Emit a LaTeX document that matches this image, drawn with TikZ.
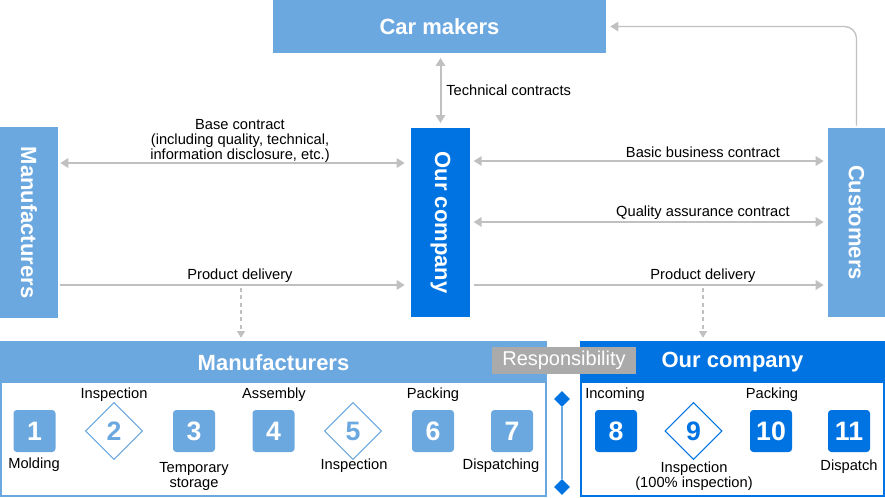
\documentclass[tikz,border=0pt]{standalone}
\usepackage{fontspec}
\setmainfont{Liberation Sans}
\usetikzlibrary{arrows.meta,shapes.geometric}
\definecolor{lightblue}{RGB}{108,168,224}
\definecolor{darkblue}{RGB}{0,115,227}
\definecolor{arrowgray}{RGB}{192,192,192}
\definecolor{respgray}{RGB}{170,170,170}

\tikzset{
	px/.style 2 args={minimum width=#1*0.75pt, minimum height=#2*0.75pt},
	party/.style={fill=#1, text=white, inner sep=0pt, font=\bfseries\fontsize{16.5}{20}\selectfont},
	lbl/.style={inner sep=0pt, align=center, font=\fontsize{11}{11.4}\selectfont},
	link/.style={draw=arrowgray, line width=1.5pt},
	tip/.style={-{Triangle[width=7pt,length=6pt]}},
	both/.style={{Triangle[width=7pt,length=6pt]}-{Triangle[width=7pt,length=6pt]}},
	drop/.style={draw=arrowgray, line width=0.8pt, dash pattern=on 3pt off 2.5pt, -{Triangle[width=6pt,length=5pt]}},
	stepbox/.style={fill=#1, rounded corners=2.5pt, px={42}{42}, inner sep=0pt, text=white, font=\bfseries\fontsize{20}{22}\selectfont},
	stepdia/.style={diamond, draw=#1, fill=white, line width=0.8pt, px={57}{57}, inner sep=0pt, text=#1, font=\bfseries\fontsize{20}{22}\selectfont},
	marker/.style={diamond, fill=darkblue, px={16}{16}, inner sep=0pt}
}

\begin{document}
\begin{tikzpicture}[x=0.75pt, y=-0.75pt]
	\useasboundingbox (0,0) rectangle (885,497);
	% parties
	\node [party=lightblue, px={333}{53}] (car) at (439.5,26.5) {Car makers};
	\node [party=lightblue, px={58}{191}] (mfr) at (29,222.5) {\rotatebox{-90}{Manufacturers}};
	\node [party=darkblue, px={59}{189}] (our) at (440.5,222.5) {\rotatebox{-90}{Our company}};
	\node [party=lightblue, px={57}{189}] (cust) at (856.5,222.5) {\rotatebox{-90}{Customers}};
	% contracts and deliveries
	\coordinate (baseY) at (0,163);
	\coordinate (bizY) at (0,161);
	\coordinate (qaY) at (0,222);
	\coordinate (delY) at (0,285);
	\draw [link, both, shorten <=3.5pt, shorten >=3.5pt] (our.north |- car.south) -- (our.north);
	\draw [link, both, shorten <=1.5pt, shorten >=4.5pt] (mfr.east |- baseY) -- (our.west |- baseY);
	\draw [link, both, shorten <=2.5pt, shorten >=3pt] (our.east |- bizY) -- (cust.west |- bizY);
	\draw [link, both, shorten <=2.5pt, shorten >=3pt] (our.east |- qaY) -- (cust.west |- qaY);
	\draw [link, tip, shorten <=1.5pt, shorten >=4.5pt] (mfr.east |- delY) -- (our.west |- delY);
	\draw [link, tip, shorten <=2.5pt, shorten >=3pt] (our.east |- delY) -- (cust.west |- delY);
	\draw [link, tip, line width=1pt, rounded corners=9pt, shorten <=1.5pt, shorten >=3pt] (cust.north) |- (car.east);
	\node [lbl, anchor=west] (techlbl) at (446,90) {Technical contracts};
	\node [lbl] (baselbl) at (240,141) {Base contract\\(including quality, technical,\\information disclosure, etc.)};
	\node [lbl] (bizlbl) at (703,152) {Basic business contract};
	\node [lbl] (qalbl) at (703,213) {Quality assurance contract};
	\node [lbl] (dellbl1) at (240,276) {Product delivery};
	\node [lbl] (dellbl2) at (703,276) {Product delivery};
	% process panels
	\node [draw=lightblue, line width=1.5pt, px={545}{154}] (mpanel) at (273.5,419) {};
	\node [draw=darkblue, line width=1.5pt, px={303}{154}] (opanel) at (732,419) {};
	\node [party=lightblue, px={547}{41}] (mhead) at (273.5,362.5) {Manufacturers};
	\node [party=darkblue, px={305}{41}] (ohead) at (732.5,362.5) {\raisebox{-2pt}{Our company}};
	\coordinate (drop1) at (241,288);
	\coordinate (drop2) at (703,288);
	\draw [drop, shorten >=3pt] (drop1) -- (drop1 |- mhead.north);
	\draw [drop, shorten >=3pt] (drop2) -- (drop2 |- ohead.north);
	\node [fill=respgray, text=white, px={144}{27}, inner sep=0pt, font=\fontsize{15}{17}\selectfont] (resp) at (564,360.5) {Responsibility};
	\node [marker] (septop) at (562,399) {};
	\node [marker] (sepbot) at (562,487) {};
	\draw [lightblue, line width=1.5pt] (septop) -- (sepbot);
	% steps
	\node [stepbox=lightblue] (s1) at (34.5,431) {1};
	\node [stepdia=lightblue] (s2) at (114,431) {2};
	\node [stepbox=lightblue] (s3) at (194,431) {3};
	\node [stepbox=lightblue] (s4) at (273.5,431) {4};
	\node [stepdia=lightblue] (s5) at (353,431) {5};
	\node [stepbox=lightblue] (s6) at (433,431) {6};
	\node [stepbox=lightblue] (s7) at (512,431) {7};
	\node [stepbox=darkblue] (s8) at (616,431) {8};
	\node [stepdia=darkblue] (s9) at (693.5,431) {9};
	\node [stepbox=darkblue] (s10) at (771,431) {10};
	\node [stepbox=darkblue] (s11) at (849,431) {11};
	\node [lbl] (l1) at (34,465) {Molding};
	\node [lbl] (l2) at (114,395) {Inspection};
	\node [lbl] (l3) at (194,476.5) {Temporary\\storage};
	\node [lbl] (l4) at (274,395) {Assembly};
	\node [lbl] (l5) at (354,466) {Inspection};
	\node [lbl] (l6) at (433,395) {Packing};
	\node [lbl] (l7) at (501,466) {Dispatching};
	\node [lbl] (l8) at (615,395) {Incoming};
	\node [lbl] (l9) at (694,476) {Inspection\\(100\% inspection)};
	\node [lbl] (l10) at (772,395) {Packing};
	\node [lbl] (l11) at (849,467) {Dispatch};
\end{tikzpicture}
\end{document}
